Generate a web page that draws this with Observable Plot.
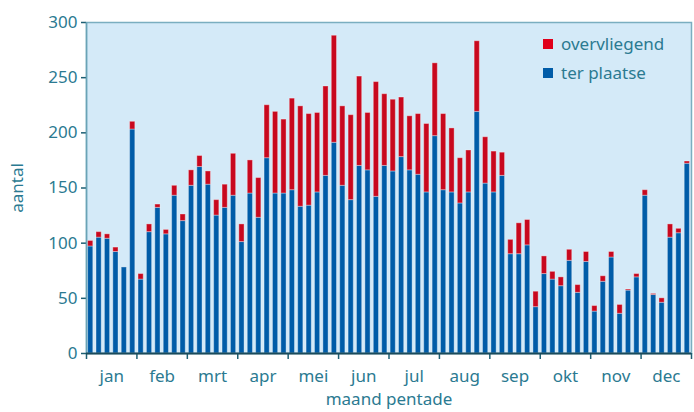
<!DOCTYPE html>
<html>
<head>
<meta charset="utf-8">
<script src="https://cdn.jsdelivr.net/npm/d3@7"></script>
<script src="https://cdn.jsdelivr.net/npm/@observablehq/plot@0.6"></script>
<style>
  html, body { margin: 0; padding: 0; background: #fff; overflow: hidden; }
  #wrap { position: relative; width: 694px; height: 412px; font-family: "Noto Sans", sans-serif; }
  .legend { position: absolute; left: 543px; font-size: 17px; color: #2b7a91; display: flex; align-items: center; }
  .legend span.sw { display: inline-block; width: 10px; height: 10px; margin-right: 8px; }
</style>
</head>
<body>
<div id="wrap"></div>
<script>
const months = ["jan","feb","mrt","apr","mei","jun","jul","aug","sep","okt","nov","dec"];
const terPlaatse = [97,105,104,92,78,203, 67,110,132,108,143,120, 152,169,153,125,132,143,
  101,145,123,177,145,145, 148,133,134,146,161,191, 152,139,170,166,142,170,
  165,178,166,162,146,197, 148,146,136,146,219,154, 146,161,90,90,98,42,
  72,67,61,84,55,83, 38,65,87,36,57,69, 143,53,46,105,109,172];
const overvliegend = [5,5,4,4,0,7, 5,7,3,4,9,6, 14,10,12,14,21,38,
  16,30,36,48,74,67, 83,91,83,72,81,97, 72,77,81,52,104,65,
  65,54,49,55,62,66, 69,58,41,38,64,42, 37,21,13,28,23,14,
  16,7,8,10,7,9, 5,5,5,8,1,3, 5,1,4,12,4,2];
const series = [
  {key: "ter plaatse", values: terPlaatse, color: "#005ca8"},
  {key: "overvliegend", values: overvliegend, color: "#c8081e"}
];

const rows = [];
for (const s of series) {
  s.values.forEach((v, i) => rows.push({i, serie: s.key, v}));
}

const textColor = "#2b7a91";
const chart = Plot.plot({
  width: 694,
  height: 412,
  marginLeft: 86,
  marginRight: 3,
  marginTop: 22,
  marginBottom: 59,
  style: {fontFamily: "'Noto Sans', sans-serif", fontSize: "17px", color: textColor, background: "transparent"},
  x: {type: "linear", domain: [0, 72]},
  y: {domain: [0, 300]},
  color: {domain: series.map(s => s.key), range: series.map(s => s.color)},
  marks: [
    Plot.frame({fill: "#d4eaf8", stroke: "#7aaec0", strokeWidth: 1.5}),
    Plot.rectY(rows, Plot.stackY({
      x1: "i", x2: d => d.i + 1, y: "v", fill: "serie",
      order: series.map(s => s.key),
      insetLeft: 1.6, insetRight: 1.6,
      stroke: "white", strokeOpacity: 0.35, strokeWidth: 1
    })),
    Plot.axisY({
      ticks: d3.range(0, 301, 50), tickSize: 5, tickPadding: 4,
      stroke: "#1d5f73", strokeWidth: 1.5, fill: textColor,
      label: "aantal", labelAnchor: "center", labelArrow: "none", labelOffset: 76
    }),
    Plot.ruleX([0], {stroke: "#6aa3b6", strokeWidth: 1.5}),
    Plot.axisX({
      ticks: d3.range(0, 73, 6), tickSize: 6, tickFormat: () => "",
      stroke: "#1d5f73", strokeWidth: 1.5, label: null
    }),
    Plot.axisX({
      ticks: d3.range(3, 72, 6), tickSize: 0, tickPadding: 16,
      tickFormat: d => months[(d - 3) / 6], fill: textColor,
      label: "maand pentade", labelAnchor: "center", labelArrow: "none", labelOffset: 51
    }),
    Plot.ruleY([0], {stroke: "#1a4a5a", strokeWidth: 2})
  ]
});
const wrap = document.getElementById("wrap");
wrap.appendChild(chart);
const legendItems = [
  {key: "overvliegend", color: "#e0001b", top: 32},
  {key: "ter plaatse", color: "#005ca8", top: 61}
];
for (const l of legendItems) {
  const d = document.createElement("div");
  d.className = "legend";
  d.style.top = l.top + "px";
  d.innerHTML = `<span class="sw" style="background:${l.color}"></span>${l.key}`;
  wrap.appendChild(d);
}
</script>
</body>
</html>
